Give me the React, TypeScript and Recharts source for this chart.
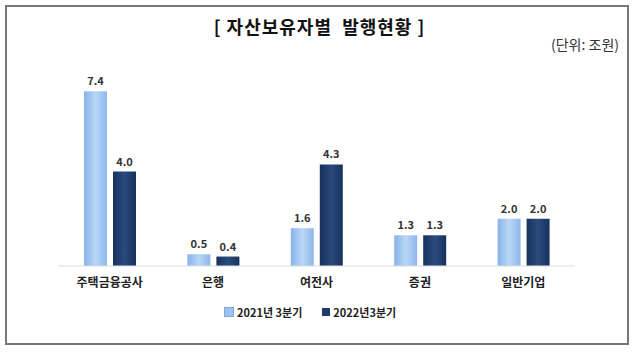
import { BarChart, Bar, XAxis, YAxis, LabelList } from "recharts";

const categories = ["주택금융공사", "은행", "여전사", "증권", "일반기업"];
const series2021 = [7.4, 0.5, 1.6, 1.3, 2.0];
const series2022 = [4.0, 0.4, 4.3, 1.3, 2.0];
const seriesNames = ["2021년 3분기", "2022년3분기"];

const data = categories.map((name, i) => ({
  name,
  a: series2021[i],
  b: series2022[i],
}));

const fmt = (v: any) => Number(v).toFixed(1);

export default function App() {
  return (
    <div
      style={{
        position: "absolute",
        left: 0,
        top: 0,
        width: 639,
        height: 353,
        background: "#fff",
        fontFamily: "'Noto Sans CJK KR', sans-serif",
      }}
    >
      <div
        style={{
          position: "absolute",
          left: 5,
          top: 5,
          width: 620,
          height: 336,
          border: "2px solid #777",
        }}
      />
      <div
        style={{
          position: "absolute",
          left: 0,
          width: 639,
          top: 13,
          textAlign: "center",
          fontSize: 18,
          fontWeight: 700,
          letterSpacing: 1,
          color: "#111",
          whiteSpace: "pre",
        }}
      >
        {"[ 자산보유자별  발행현황 ]"}
      </div>
      <div
        style={{
          position: "absolute",
          right: 20,
          top: 34,
          fontSize: 14,
          color: "#333",
          fontFamily: "'Noto Sans CJK KR', serif",
        }}
      >
        (단위: 조원)
      </div>
      <div style={{ position: "absolute", left: 0, top: 0 }}>
        <BarChart
          width={639}
          height={353}
          data={data}
          margin={{ top: 77, right: 64, bottom: 67, left: 58 }}
          barGap={6}
          barSize={23}
        >
          <defs>
            <linearGradient id="gLight" x1="0" y1="0" x2="1" y2="0">
              <stop offset="0%" stopColor="#86B3EA" />
              <stop offset="50%" stopColor="#BAD6F6" />
              <stop offset="100%" stopColor="#8DB8EC" />
            </linearGradient>
            <linearGradient id="gDark" x1="0" y1="0" x2="1" y2="0">
              <stop offset="0%" stopColor="#17325C" />
              <stop offset="50%" stopColor="#2A4B7E" />
              <stop offset="100%" stopColor="#17325C" />
            </linearGradient>
          </defs>
          <YAxis hide domain={[0, 8]} />
          <XAxis
            dataKey="name"
            height={20}
            tickLine={false}
            axisLine={{ stroke: "#ddd" }}
            tick={{ fontSize: 12, fontWeight: 700, fill: "#222", dy: 4 }}
            interval={0}
          />
          <Bar dataKey="a" fill="url(#gLight)" isAnimationActive={false}>
            <LabelList
              dataKey="a"
              position="top"
              offset={6}
              formatter={fmt}
              style={{ fontSize: 11, fontWeight: 700, fill: "#333" }}
            />
          </Bar>
          <Bar dataKey="b" fill="url(#gDark)" isAnimationActive={false}>
            <LabelList
              dataKey="b"
              position="top"
              offset={6}
              formatter={fmt}
              style={{ fontSize: 11, fontWeight: 700, fill: "#333" }}
            />
          </Bar>
        </BarChart>
      </div>
      <div
        style={{
          position: "absolute",
          left: 224,
          top: 304,
          display: "flex",
          alignItems: "center",
          fontSize: 11,
          fontWeight: 700,
          color: "#222",
        }}
      >
        <span style={{ width: 8, height: 8, background: "#9CC3F0", border: "1px solid #7FA8DA", marginRight: 3 }} />
        <span style={{ marginRight: 20 }}>{seriesNames[0]}</span>
        <span style={{ width: 8, height: 8, background: "#1F3B66", marginRight: 3 }} />
        <span>{seriesNames[1]}</span>
      </div>
    </div>
  );
}
